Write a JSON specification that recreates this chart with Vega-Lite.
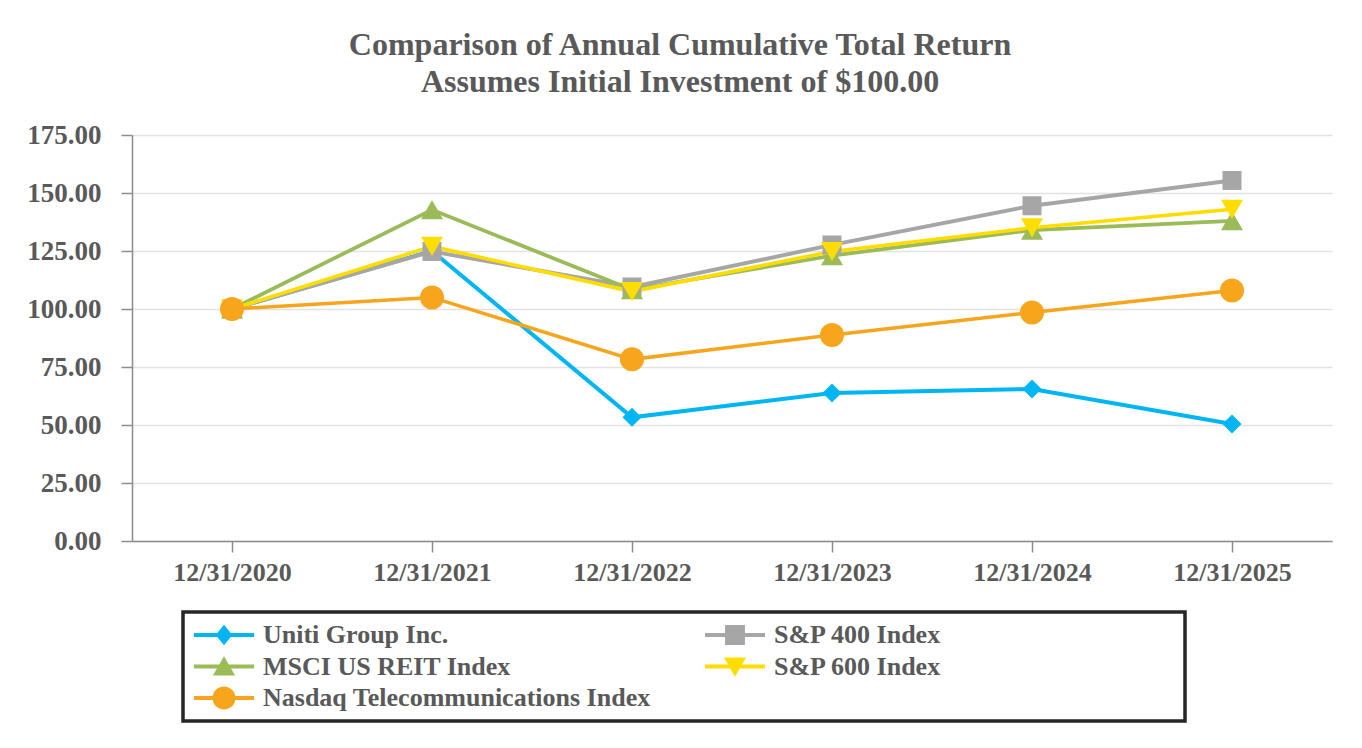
{
  "$schema": "https://vega.github.io/schema/vega-lite/v6.json",
  "width": 1200,
  "height": 406,
  "autosize": {"type": "none"},
  "padding": {"left": 132, "top": 135, "right": 30, "bottom": 207},
  "background": "white",
  "title": {
    "text": ["Comparison of Annual Cumulative Total Return", "Assumes Initial Investment of $100.00"],
    "font": "Liberation Serif",
    "fontSize": 32,
    "fontWeight": "bold",
    "color": "#595959",
    "lineHeight": 37,
    "anchor": "middle",
    "frame": "group",
    "dx": -52,
    "offset": 22
  },
  "data": {
    "values": [
      {"series": "Uniti Group Inc.", "date": "12/31/2020", "value": 100},
      {"series": "Uniti Group Inc.", "date": "12/31/2021", "value": 125},
      {"series": "Uniti Group Inc.", "date": "12/31/2022", "value": 53.3},
      {"series": "Uniti Group Inc.", "date": "12/31/2023", "value": 63.8},
      {"series": "Uniti Group Inc.", "date": "12/31/2024", "value": 65.5},
      {"series": "Uniti Group Inc.", "date": "12/31/2025", "value": 50.4},
      {"series": "S&P 400 Index", "date": "12/31/2020", "value": 100},
      {"series": "S&P 400 Index", "date": "12/31/2021", "value": 124.8},
      {"series": "S&P 400 Index", "date": "12/31/2022", "value": 109.5},
      {"series": "S&P 400 Index", "date": "12/31/2023", "value": 127.6},
      {"series": "S&P 400 Index", "date": "12/31/2024", "value": 144.5},
      {"series": "S&P 400 Index", "date": "12/31/2025", "value": 155.4},
      {"series": "MSCI US REIT Index", "date": "12/31/2020", "value": 100},
      {"series": "MSCI US REIT Index", "date": "12/31/2021", "value": 142.8},
      {"series": "MSCI US REIT Index", "date": "12/31/2022", "value": 108.3},
      {"series": "MSCI US REIT Index", "date": "12/31/2023", "value": 123},
      {"series": "MSCI US REIT Index", "date": "12/31/2024", "value": 134},
      {"series": "MSCI US REIT Index", "date": "12/31/2025", "value": 138},
      {"series": "S&P 600 Index", "date": "12/31/2020", "value": 100},
      {"series": "S&P 600 Index", "date": "12/31/2021", "value": 127},
      {"series": "S&P 600 Index", "date": "12/31/2022", "value": 107.5},
      {"series": "S&P 600 Index", "date": "12/31/2023", "value": 124.8},
      {"series": "S&P 600 Index", "date": "12/31/2024", "value": 135},
      {"series": "S&P 600 Index", "date": "12/31/2025", "value": 143},
      {"series": "Nasdaq Telecommunications Index", "date": "12/31/2020", "value": 100},
      {"series": "Nasdaq Telecommunications Index", "date": "12/31/2021", "value": 105},
      {"series": "Nasdaq Telecommunications Index", "date": "12/31/2022", "value": 78.3},
      {"series": "Nasdaq Telecommunications Index", "date": "12/31/2023", "value": 88.8},
      {"series": "Nasdaq Telecommunications Index", "date": "12/31/2024", "value": 98.5},
      {"series": "Nasdaq Telecommunications Index", "date": "12/31/2025", "value": 108}
    ]
  },
  "encoding": {
    "x": {
      "field": "date",
      "type": "ordinal",
      "scale": {"type": "point", "padding": 0.5, "domain": ["12/31/2020", "12/31/2021", "12/31/2022", "12/31/2023", "12/31/2024", "12/31/2025"]},
      "axis": {
        "title": null,
        "labelAngle": 0,
        "labelFont": "Liberation Serif",
        "labelFontSize": 26,
        "labelFontWeight": "bold",
        "labelColor": "#595959",
        "labelPadding": 7,
        "tickSize": 11,
        "tickColor": "#8c8c8c",
        "tickWidth": 1.5,
        "domainColor": "#8c8c8c",
        "domainWidth": 1.5,
        "grid": false
      }
    },
    "y": {
      "field": "value",
      "type": "quantitative",
      "scale": {"domain": [0, 175], "nice": false, "zero": true},
      "axis": {
        "title": null,
        "values": [0, 25, 50, 75, 100, 125, 150, 175],
        "format": ".2f",
        "labelFont": "Liberation Serif",
        "labelFontSize": 27,
        "labelFontWeight": "bold",
        "labelColor": "#595959",
        "labelPadding": 20,
        "tickSize": 11,
        "tickColor": "#8c8c8c",
        "tickWidth": 1.5,
        "domainColor": "#8c8c8c",
        "domainWidth": 1.5,
        "grid": true,
        "gridColor": "#e2e2e2",
        "gridWidth": 1.5
      }
    },
    "color": {
      "field": "series",
      "type": "nominal",
      "scale": {
        "domain": ["Uniti Group Inc.", "S&P 400 Index", "MSCI US REIT Index", "S&P 600 Index", "Nasdaq Telecommunications Index"],
        "range": ["#00B6F2", "#A6A6A6", "#9BBB59", "#FFDD00", "#F7A51C"]
      },
      "legend": null
    }
  },
  "layer": [
    {
      "mark": {"type": "line"},
      "encoding": {
        "strokeWidth": {
          "field": "series",
          "type": "nominal",
          "scale": {
            "domain": ["Uniti Group Inc.", "S&P 400 Index", "MSCI US REIT Index", "S&P 600 Index", "Nasdaq Telecommunications Index"],
            "range": [4, 3.5, 3.5, 4.5, 4]
          },
          "legend": null
        }
      }
    },
    {
      "transform": [{"filter": {"field": "series", "equal": "Uniti Group Inc."}}],
      "mark": {"type": "point", "filled": true, "opacity": 1, "shape": "diamond", "size": 361}
    },
    {
      "transform": [{"filter": {"field": "series", "equal": "S&P 400 Index"}}],
      "mark": {"type": "point", "filled": true, "opacity": 1, "shape": "square", "size": 361}
    },
    {
      "transform": [{"filter": {"field": "series", "equal": "MSCI US REIT Index"}}],
      "mark": {"type": "point", "filled": true, "opacity": 1, "shape": "triangle-up", "size": 484}
    },
    {
      "transform": [{"filter": {"field": "series", "equal": "S&P 600 Index"}}],
      "mark": {"type": "point", "filled": true, "opacity": 1, "shape": "triangle-down", "size": 484}
    },
    {
      "transform": [{"filter": {"field": "series", "equal": "Nasdaq Telecommunications Index"}}],
      "mark": {"type": "point", "filled": true, "opacity": 1, "shape": "circle", "size": 576}
    },
    {
      "mark": {"type": "point", "filled": true, "opacity": 0},
      "encoding": {
        "color": {
          "field": "series",
          "type": "nominal",
          "legend": {
            "title": "Uniti Group Inc.",
            "titleOrient": "right",
            "titleColor": "transparent",
            "titleFont": "Liberation Serif",
            "titleFontSize": 31.3,
            "titleFontWeight": "bold",
            "titleLimit": 1000,
            "titlePadding": 10,
            "orient": "none",
            "legendX": 51,
            "legendY": 477,
            "direction": "horizontal",
            "columns": 2,
            "columnPadding": 53,
            "rowPadding": 5.5,
            "padding": 10,
            "labelFont": "Liberation Serif",
            "labelFontSize": 26,
            "labelFontWeight": "bold",
            "labelColor": "#595959",
            "labelOffset": 44,
            "labelLimit": 600,
            "symbolSize": 576,
            "symbolOpacity": 1,
            "symbolStrokeWidth": 0,
            "strokeColor": "#262626"
          }
        },
        "shape": {
          "field": "series",
          "type": "nominal",
          "scale": {
            "domain": ["Uniti Group Inc.", "S&P 400 Index", "MSCI US REIT Index", "S&P 600 Index", "Nasdaq Telecommunications Index"],
            "range": [
              "M-1,-0.17H4V0.17H-1Z M1.5,-0.85L2.2,0L1.5,0.85L0.8,0Z",
              "M-1,-0.17H4V0.17H-1Z M0.67,-0.83H2.33V0.83H0.67Z",
              "M-1,-0.17H4V0.17H-1Z M1.5,-0.85L2.42,0.75L0.58,0.75Z",
              "M-1,-0.17H4V0.17H-1Z M0.58,-0.75L2.42,-0.75L1.5,0.85Z",
              "M-1,-0.17H4V0.17H-1Z M0.54,0A0.96,0.96 0 1,1 2.46,0A0.96,0.96 0 1,1 0.54,0Z"
            ]
          },
          "legend": {
            "title": "Uniti Group Inc.",
            "titleOrient": "right",
            "titleColor": "transparent",
            "titleFont": "Liberation Serif",
            "titleFontSize": 31.3,
            "titleFontWeight": "bold",
            "titleLimit": 1000,
            "titlePadding": 10,
            "orient": "none",
            "legendX": 51,
            "legendY": 477,
            "direction": "horizontal",
            "columns": 2,
            "columnPadding": 53,
            "rowPadding": 5.5,
            "padding": 10,
            "labelFont": "Liberation Serif",
            "labelFontSize": 26,
            "labelFontWeight": "bold",
            "labelColor": "#595959",
            "labelOffset": 44,
            "labelLimit": 600,
            "symbolSize": 576,
            "symbolOpacity": 1,
            "symbolStrokeWidth": 0,
            "strokeColor": "#262626"
          }
        }
      }
    }
  ],
  "resolve": {"legend": {"color": "independent", "shape": "independent"}},
  "config": {
    "view": {"stroke": null},
    "legend": {"strokeWidth": 3.5}
  }
}
